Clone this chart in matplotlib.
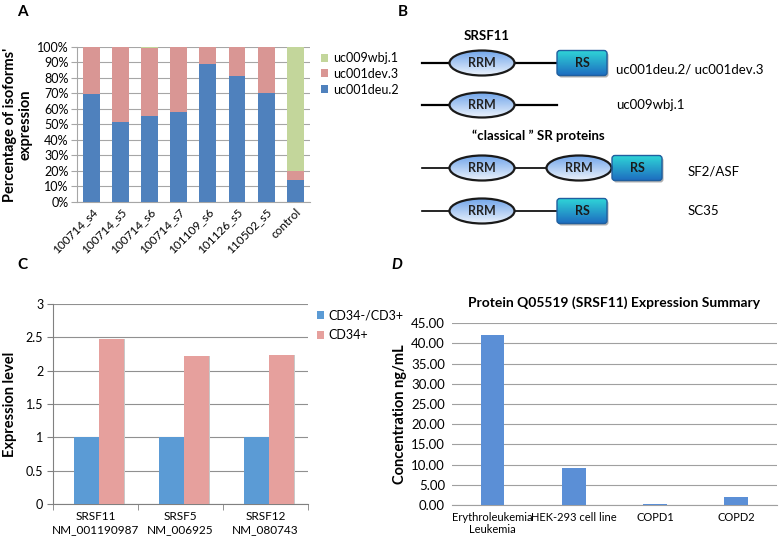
import numpy as np
import matplotlib
matplotlib.use("Agg")
import matplotlib.pyplot as plt
from matplotlib.patches import Ellipse, FancyBboxPatch

plt.rcParams['font.family'] = ['Lato', 'DejaVu Sans']

# panel A data (percent of isoform expression)
samples_a = ["100714_s4", "100714_s5", "100714_s6", "100714_s7",
             "101109_s6", "101126_s5", "110502_s5", "control"]
deu2 = [69.5, 51.5, 55.5, 58, 89, 81.5, 70, 14.5]
wbj1 = [0, 0, 0.5, 0, 0, 0, 0, 80]
dev3 = [100 - a - b for a, b in zip(deu2, wbj1)]

# panel C data
genes_c = ["SRSF11\nNM_001190987", "SRSF5\nNM_006925", "SRSF12\nNM_080743"]
cd34neg = [1, 1, 1]
cd34pos = [2.48, 2.22, 2.24]

# panel D data
samples_d = ["Erythroleukemia\nLeukemia", "HEK-293 cell line", "COPD1", "COPD2"]
conc_d = [42.0, 9.2, 0.2, 2.1]

BLUE = "#4F81BD"
PINK = "#D99694"
GREEN = "#C3D69B"
GRID = "#A6A6A6"

fig = plt.figure(figsize=(7.81, 5.43), dpi=100)

# ---------- A ----------
axa = fig.add_axes([0.0986, 0.628, 0.298, 0.2855])
x = np.arange(len(samples_a))
axa.bar(x, deu2, 0.58, color=BLUE, label="uc001deu.2", zorder=3)
axa.bar(x, dev3, 0.58, bottom=deu2, color=PINK, label="uc001dev.3", zorder=3)
axa.bar(x, wbj1, 0.58, bottom=np.array(deu2) + np.array(dev3), color=GREEN,
        label="uc009wbj.1", zorder=3)
axa.set_xlim(-0.5, 7.5)
axa.set_ylim(0, 100)
axa.set_yticks(range(0, 101, 10))
axa.set_yticklabels(["%d%%" % v for v in range(0, 101, 10)], fontsize=9)
axa.set_xticks(x)
axa.set_xticklabels(samples_a, rotation=45, ha="right", rotation_mode="anchor", fontsize=8.5)
axa.yaxis.grid(True, color=GRID, lw=0.8, zorder=0)
for s in ["top", "right"]:
    axa.spines[s].set_visible(False)
axa.spines["left"].set_color(GRID)
axa.spines["bottom"].set_color(GRID)
axa.tick_params(axis="y", color=GRID, length=4, pad=2)
axa.tick_params(axis="x", length=0, pad=3)
axa.set_ylabel("Percentage of isoforms'\nexpression", fontsize=10.5, fontweight="bold", labelpad=3)
h, l = axa.get_legend_handles_labels()
axa.legend(h[::-1], l[::-1], loc="upper left", bbox_to_anchor=(1.0, 1.04), frameon=False,
           fontsize=9, handlelength=0.6, handleheight=0.6, handletextpad=0.4, labelspacing=0.3)

# ---------- C ----------
axc = fig.add_axes([0.0679, 0.0718, 0.3265, 0.368])
xc = np.arange(len(genes_c))
w = 0.29
axc.bar(xc - w / 2 + 0.04 + 0.012, cd34neg, w, color="#C8C8C8", zorder=2)
axc.bar(xc + w / 2 + 0.04 + 0.012, cd34pos, w, color="#C8C8C8", zorder=2)
axc.bar(xc - w / 2 + 0.04, cd34neg, w, color="#5B9BD5", label="CD34-/CD3+", zorder=3)
axc.bar(xc + w / 2 + 0.04, cd34pos, w, color="#E6A09D", label="CD34+", zorder=3)
axc.set_xlim(-0.5, 2.5)
axc.set_ylim(0, 3)
axc.set_yticks([0, 0.5, 1, 1.5, 2, 2.5, 3])
axc.set_yticklabels(["0", "0.5", "1", "1.5", "2", "2.5", "3"], fontsize=9)
axc.set_xticks(xc)
axc.set_xticklabels(genes_c, fontsize=8.5, linespacing=1.2)
axc.set_xticks([-0.5, 0.5, 1.5, 2.5], minor=True)
axc.tick_params(axis="x", which="major", length=0, pad=5)
axc.tick_params(axis="x", which="minor", length=4, color="#808080")
axc.tick_params(axis="y", length=4, color="#808080", pad=3)
axc.yaxis.grid(True, color="#909090", lw=0.8, zorder=0)
for s in ["top", "right"]:
    axc.spines[s].set_visible(False)
axc.spines["left"].set_color("#808080")
axc.spines["bottom"].set_color("#808080")
axc.set_ylabel("Expression level", fontsize=10.5, fontweight="bold", labelpad=6)
axc.legend(loc="upper left", bbox_to_anchor=(0.99, 1.03), frameon=False, fontsize=9,
           handlelength=0.6, handleheight=0.6, handletextpad=0.3, labelspacing=0.6)

# ---------- D ----------
axd = fig.add_axes([0.5787, 0.07, 0.416, 0.335])
xd = np.arange(len(samples_d))
axd.bar(xd, conc_d, 0.29, color="#5B8FD6", zorder=3)
axd.set_xlim(-0.5, 3.5)
axd.set_ylim(0, 45)
axd.set_yticks(np.arange(0, 46, 5))
axd.set_yticklabels(["%.2f" % v for v in np.arange(0, 46, 5)], fontsize=9.5)
axd.set_xticks(xd)
axd.set_xticklabels(samples_d, fontsize=8, linespacing=1.15)
axd.tick_params(axis="both", length=0, pad=5)
axd.yaxis.grid(True, color="#A0A0A0", lw=0.8, zorder=0)
for s in ["top", "right", "left"]:
    axd.spines[s].set_visible(False)
axd.spines["bottom"].set_color("#A0A0A0")
axd.set_ylabel("Concentration ng/mL", fontsize=10.5, fontweight="bold", labelpad=3)
axd.set_title("Protein Q05519 (SRSF11) Expression Summary", fontsize=10,
              fontweight="bold", pad=12)

# ---------- B (domain diagrams, pixel coordinates) ----------
axb = fig.add_axes([0, 0, 1, 1], zorder=-1)
axb.set_xlim(0, 781)
axb.set_ylim(543, 0)
axb.axis("off")
axb.patch.set_alpha(0)

grad = np.linspace(0, 1, 64).reshape(-1, 1)
cm_rrm = matplotlib.colors.LinearSegmentedColormap.from_list("rrm", ["#6FA4EA", "#EEF4FC"])
cm_rs = matplotlib.colors.LinearSegmentedColormap.from_list("rs", ["#2FD6D8", "#1E6FC0"])


def rrm(cx, cy):
    e = Ellipse((cx, cy), 65, 25, facecolor="none", edgecolor="#1A1A1A", lw=1.6, zorder=4)
    axb.add_patch(e)
    im = axb.imshow(grad, cmap=cm_rrm, extent=(cx - 33, cx + 33, cy + 13, cy - 13),
                    aspect="auto", zorder=3)
    im.set_clip_path(e)
    axb.text(cx, cy, "RRM", ha="center", va="center", fontsize=9, fontweight="bold",
             color="#222222", zorder=5)


def rs(x0, cy):
    sh = FancyBboxPatch((x0 + 1.5, cy - 10.5), 50, 25, boxstyle="round,pad=0,rounding_size=3",
                        facecolor="#B0B0B0", edgecolor="none", zorder=2.5)
    axb.add_patch(sh)
    b = FancyBboxPatch((x0, cy - 12.5), 50, 25, boxstyle="round,pad=0,rounding_size=3",
                       facecolor="none", edgecolor="#1F5F9F", lw=1.0, zorder=4)
    axb.add_patch(b)
    im = axb.imshow(grad, cmap=cm_rs, extent=(x0, x0 + 50, cy + 12.5, cy - 12.5),
                    aspect="auto", zorder=3)
    im.set_clip_path(b)
    axb.text(x0 + 25, cy, "RS", ha="center", va="center", fontsize=9, fontweight="bold",
             color="#1A1A1A", zorder=5)


# row 1
axb.plot([422, 557], [63, 63], color="black", lw=1.6, zorder=2)
rrm(482, 63)
rs(557, 63)
axb.text(616, 70, "uc001deu.2/ uc001dev.3", fontsize=9.5, va="center")
# row 2
axb.plot([422, 557], [105, 105], color="black", lw=1.6, zorder=2)
rrm(482, 105)
axb.text(616, 105, "uc009wbj.1", fontsize=9.5, va="center")
# row 3
axb.plot([422, 612], [168, 168], color="black", lw=1.2, zorder=2)
rrm(482, 168)
rrm(579, 168)
rs(612, 168)
axb.text(688, 172, "SF2/ASF", fontsize=9.5, va="center")
# row 4
axb.plot([422, 557], [211, 211], color="black", lw=1.2, zorder=2)
rrm(482, 211)
rs(557, 211)
axb.text(688, 211, "SC35", fontsize=9.5, va="center")

axb.text(487, 36, "SRSF11", fontsize=9.5, fontweight="bold", ha="center", va="center")
axb.text(472, 136, "\u201cclassical \u201d SR proteins", fontsize=9.5, fontweight="bold",
         ha="left", va="center")

# panel letters
axb.text(22, 12, "A", fontsize=11, fontweight="bold", ha="center", va="center")
axb.text(403, 12, "B", fontsize=11, fontweight="bold", ha="center", va="center")
axb.text(22, 265, "C", fontsize=11, fontweight="bold", ha="center", va="center")
axb.text(397, 265, "D", fontsize=11, fontweight="bold", fontstyle="italic",
         ha="center", va="center")

fig.savefig("out.png", dpi=100)
